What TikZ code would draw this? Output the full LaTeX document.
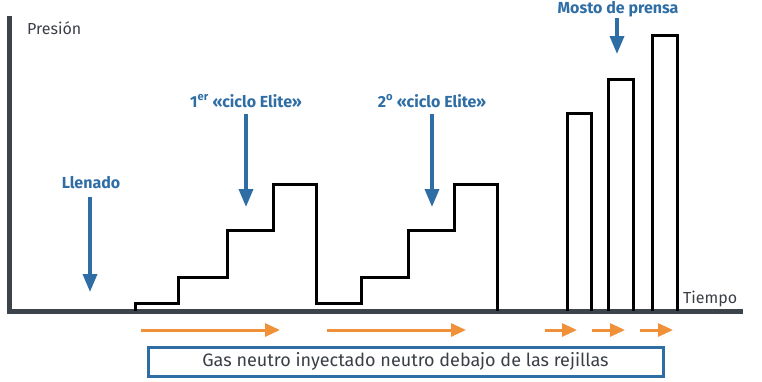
\documentclass[tikz,border=0pt]{standalone}
\usepackage{fontspec}
\setmainfont{Fira Sans}
\usetikzlibrary{arrows.meta}
\definecolor{axisgray}{HTML}{3D434A}
\definecolor{labelblue}{HTML}{2F6EA5}
\definecolor{gasorange}{HTML}{F0913A}
\definecolor{textgray}{HTML}{3A3F46}
\tikzset{
  axisline/.style={draw=axisgray, line width=5pt},
  profile/.style={draw=black, line width=3pt, line join=miter},
  bluelabel/.style={text=labelblue, font=\bfseries\fontsize{16}{18}\selectfont, anchor=base, inner sep=0pt},
  axislabel/.style={text=textgray, font=\fontsize{16}{18}\selectfont, anchor=base west, inner sep=0pt},
  bluearrow/.style={draw=labelblue, line width=3.5pt, -{Triangle[length=18pt,width=14pt]}},
  gasarrow/.style={draw=gasorange, line width=3pt, -{Triangle[length=15pt,width=13pt]}},
  gasbox/.style={draw=labelblue, line width=3pt, minimum width=515pt, minimum height=29pt, inner sep=0pt, text=textgray, font=\fontsize{18}{20}\selectfont},
}
\begin{document}
\begin{tikzpicture}[x=1pt, y=-1pt]
\useasboundingbox (0,0) rectangle (762,381);
% axes
\draw[axisline] (9,16) -- (9,311) -- (743,311);
\node[axislabel] (pres) at (27,34) {Presión};
\node[axislabel] (tiem) at (683,303) {Tiempo};
% step profile
\draw[profile] (135,311) -- (135,303) -- (178,303) -- (178,277) -- (227,277) -- (227,230) -- (273,230) -- (273,184) -- (316,184) -- (316,303) -- (361,303) -- (361,277) -- (408,277) -- (408,230) -- (454,230) -- (454,184) -- (497,184) -- (497,311);
% press bars
\draw[profile] (567,311) -- (567,113) -- (591,113) -- (591,311);
\draw[profile] (608,311) -- (608,79) -- (633,79) -- (633,311);
\draw[profile] (652,311) -- (652,35) -- (677,35) -- (677,311);
% blue labels and arrows
\node[bluelabel] (llen) at (91,188) {Llenado};
\node[bluelabel] (c1) at (246,107) {1\textsuperscript{er} «ciclo Elite»};
\node[bluelabel] (c2) at (432,107) {2\textsuperscript{o} «ciclo Elite»};
\node[bluelabel] (mosto) at (618,13) {Mosto de prensa};
\coordinate (llenT) at (90,292);
\coordinate (c1T) at (246,207);
\coordinate (c2T) at (432,207);
\coordinate (mostoT) at (617,54);
\draw[bluearrow] (90,197) -- (llenT);
\draw[bluearrow] (246,114) -- (c1T);
\draw[bluearrow] (432,114) -- (c2T);
\draw[bluearrow] (617,18) -- (mostoT);
% gas arrows
\coordinate (g1a) at (141,330); \coordinate (g1b) at (280,330);
\coordinate (g2a) at (327,330); \coordinate (g2b) at (466,330);
\coordinate (g3a) at (545,330); \coordinate (g3b) at (577,330);
\coordinate (g4a) at (592,330); \coordinate (g4b) at (625,330);
\coordinate (g5a) at (640,330); \coordinate (g5b) at (673,330);
\draw[gasarrow] (g1a) -- (g1b);
\draw[gasarrow] (g2a) -- (g2b);
\draw[gasarrow] (g3a) -- (g3b);
\draw[gasarrow] (g4a) -- (g4b);
\draw[gasarrow] (g5a) -- (g5b);
% box
\node[gasbox] (gas) at (405.5,361.5) {Gas neutro inyectado neutro debajo de las rejillas};
\end{tikzpicture}
\end{document}
